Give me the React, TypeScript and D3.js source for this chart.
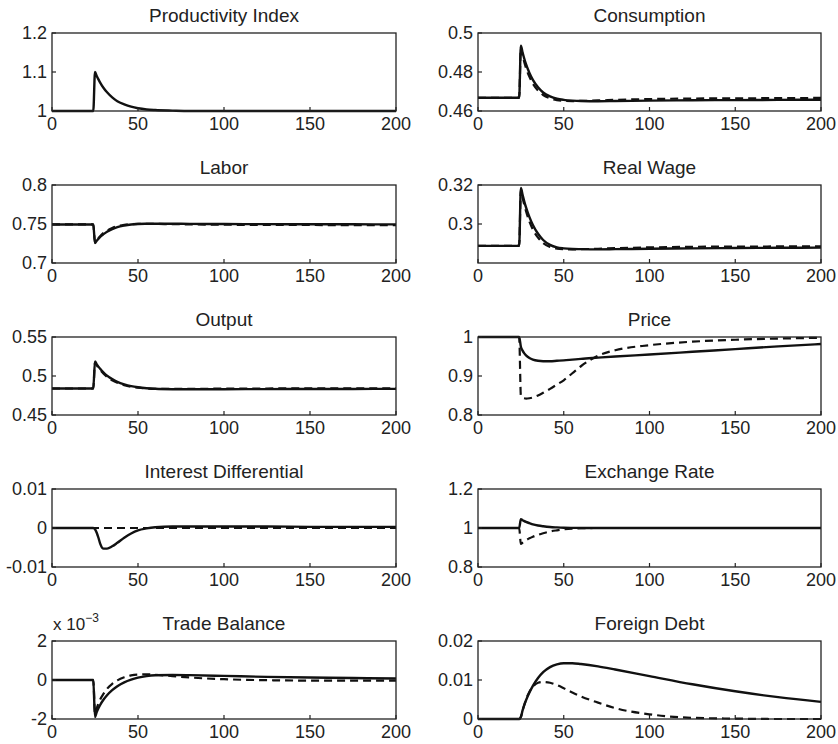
import * as d3 from "d3";

const T = [0, 24, 25, 26, 27, 28, 30, 32, 35, 38, 42, 46, 50, 55, 60, 70, 80, 100, 125, 150, 175, 200];

const productivity = [1, 1, 1.1, 1.09, 1.081, 1.073, 1.059, 1.048, 1.035, 1.025, 1.017, 1.011, 1.007, 1.004, 1.0025, 1.001, 1, 1, 1, 1, 1, 1];

const consumptionA = [0.4668, 0.4668, 0.4935, 0.49, 0.4868, 0.484, 0.4795, 0.476, 0.4722, 0.4695, 0.4675, 0.4663, 0.4657, 0.4653, 0.4651, 0.465, 0.4651, 0.4653, 0.4655, 0.4656, 0.4657, 0.4658];
const consumptionB = [0.4668, 0.4668, 0.4925, 0.4885, 0.485, 0.482, 0.4775, 0.474, 0.4705, 0.4682, 0.4665, 0.4656, 0.4652, 0.4651, 0.4652, 0.4654, 0.4657, 0.4661, 0.4664, 0.4665, 0.4666, 0.4667];

const laborA = [0.7494, 0.7494, 0.7255, 0.7285, 0.731, 0.7335, 0.737, 0.74, 0.7435, 0.746, 0.748, 0.7493, 0.75, 0.7503, 0.7504, 0.7503, 0.7502, 0.75, 0.7498, 0.7497, 0.7496, 0.7495];
const laborB = [0.7494, 0.7494, 0.7258, 0.729, 0.7318, 0.7343, 0.7385, 0.7415, 0.745, 0.7472, 0.749, 0.7498, 0.7502, 0.7502, 0.7501, 0.7498, 0.7495, 0.7491, 0.7488, 0.7487, 0.7486, 0.7486];

const wageA = [0.2888, 0.2888, 0.3185, 0.315, 0.3115, 0.3085, 0.3035, 0.2995, 0.295, 0.2918, 0.2893, 0.288, 0.2875, 0.2872, 0.2871, 0.287, 0.2871, 0.2873, 0.2875, 0.2877, 0.2878, 0.2879];
const wageB = [0.2888, 0.2888, 0.3175, 0.3135, 0.3098, 0.3066, 0.3012, 0.2972, 0.293, 0.2902, 0.2882, 0.2874, 0.2871, 0.287, 0.2871, 0.2873, 0.2876, 0.288, 0.2883, 0.2884, 0.2885, 0.2886];

const outputA = [0.484, 0.484, 0.5185, 0.515, 0.512, 0.5092, 0.5045, 0.5005, 0.496, 0.4925, 0.4893, 0.487, 0.4855, 0.4843, 0.4836, 0.4831, 0.483, 0.4831, 0.4832, 0.4833, 0.4834, 0.4835];
const outputB = [0.484, 0.484, 0.5175, 0.5138, 0.5106, 0.5078, 0.503, 0.499, 0.4945, 0.4912, 0.4882, 0.4862, 0.485, 0.484, 0.4835, 0.4834, 0.4835, 0.4838, 0.484, 0.4841, 0.4841, 0.4841];

const priceA = [1, 1, 0.975, 0.965, 0.958, 0.953, 0.946, 0.942, 0.939, 0.938, 0.938, 0.939, 0.94, 0.942, 0.944, 0.947, 0.95, 0.955, 0.962, 0.969, 0.976, 0.982];
const priceB = [1, 1, 0.85, 0.845, 0.843, 0.842, 0.843, 0.845, 0.85, 0.857, 0.867, 0.878, 0.889, 0.907, 0.925, 0.952, 0.966, 0.979, 0.988, 0.993, 0.996, 0.998];

const interestA = [0, 0, -0.0003, -0.0012, -0.0025, -0.004, -0.0053, -0.0053, -0.0047, -0.0038, -0.0025, -0.0014, -0.0006, -0.0001, 0.0002, 0.0004, 0.0004, 0.0004, 0.0004, 0.0003, 0.0003, 0.0003];
const interestB = [0, 0, 0, 0, 0, 0, 0, 0, 0, 0, 0, 0, 0, 0, 0, 0, 0, 0, 0, 0, 0, 0];

const exchangeA = [1, 1, 1.045, 1.04, 1.035, 1.031, 1.025, 1.019, 1.013, 1.009, 1.005, 1.003, 1.0015, 1.0007, 1.0003, 1, 1, 1, 1, 1, 1, 1];
const exchangeB = [1, 1, 0.918, 0.925, 0.931, 0.937, 0.947, 0.955, 0.965, 0.973, 0.982, 0.988, 0.993, 0.997, 0.999, 1, 1, 1, 1, 1, 1, 1];

// trade balance in units of 1e-3
const tradeA = [0, 0, -1.9, -1.65, -1.45, -1.28, -1.0, -0.78, -0.52, -0.32, -0.12, 0.02, 0.12, 0.2, 0.24, 0.26, 0.25, 0.21, 0.16, 0.13, 0.1, 0.08];
const tradeB = [0, 0, -1.75, -1.45, -1.2, -1.0, -0.7, -0.45, -0.2, -0.02, 0.14, 0.24, 0.28, 0.29, 0.27, 0.2, 0.13, 0.04, -0.01, -0.03, -0.03, -0.03];

const debtA = [0, 0, 0.0005, 0.0022, 0.0036, 0.0048, 0.0068, 0.0085, 0.0105, 0.012, 0.0133, 0.014, 0.0143, 0.0143, 0.0141, 0.0135, 0.0127, 0.011, 0.0089, 0.0071, 0.0056, 0.0044];
const debtB = [0, 0, 0.0005, 0.0022, 0.0036, 0.005, 0.007, 0.0083, 0.0093, 0.0095, 0.0093, 0.0087, 0.0079, 0.0068, 0.0058, 0.0042, 0.0028, 0.0012, 0.0003, 0.0001, 0, 0];

const xTicks = [0, 50, 100, 150, 200];

const panels = [
  { title: "Productivity Index", domain: [1, 1.2], ticks: [1, 1.1, 1.2], solid: productivity, dashed: null },
  { title: "Consumption", domain: [0.46, 0.5], ticks: [0.46, 0.48, 0.5], solid: consumptionA, dashed: consumptionB },
  { title: "Labor", domain: [0.7, 0.8], ticks: [0.7, 0.75, 0.8], solid: laborA, dashed: laborB },
  { title: "Real Wage", domain: [0.28, 0.32], ticks: [0.3, 0.32], solid: wageA, dashed: wageB },
  { title: "Output", domain: [0.45, 0.55], ticks: [0.45, 0.5, 0.55], solid: outputA, dashed: outputB },
  { title: "Price", domain: [0.8, 1], ticks: [0.8, 0.9, 1], solid: priceA, dashed: priceB },
  { title: "Interest Differential", domain: [-0.01, 0.01], ticks: [-0.01, 0, 0.01], solid: interestA, dashed: interestB },
  { title: "Exchange Rate", domain: [0.8, 1.2], ticks: [0.8, 1, 1.2], solid: exchangeA, dashed: exchangeB },
  { title: "Trade Balance", domain: [-2, 2], ticks: [-2, 0, 2], solid: tradeA, dashed: tradeB, scaleNote: true },
  { title: "Foreign Debt", domain: [0, 0.02], ticks: [0, 0.01, 0.02], solid: debtA, dashed: debtB },
];

const W = 838;
const H = 744;
const colX = [52, 478];
const plotW = [344, 343];
const top0 = 33;
const rowStep = 152;
const plotH = 78;
const font = "'Liberation Sans', Arial, sans-serif";

const fmt = (v) => String(+v.toFixed(4));

const Panel = ({ p, idx }) => {
  const col = idx % 2;
  const row = Math.floor(idx / 2);
  const left = colX[col];
  const top = top0 + row * rowStep;
  const w = plotW[col];
  const x = d3.scaleLinear().domain([0, 200]).range([0, w]);
  const y = d3.scaleLinear().domain(p.domain).range([plotH, 0]);
  const line = d3
    .line()
    .x((d, i) => x(T[i]))
    .y((d) => y(d))
    .curve(d3.curveMonotoneX);

  return (
    <g transform={`translate(${left},${top})`}>
      <text x={w / 2} y={-11} textAnchor="middle" fontSize={19} fontFamily={font} fill="#222">
        {p.title}
      </text>
      {p.scaleNote && (
        <text x={1} y={-11} fontSize={17} fontFamily={font} fill="#222">
          x 10
          <tspan dy={-8} fontSize={12}>
            −3
          </tspan>
        </text>
      )}
      {p.dashed && (
        <path d={line(p.dashed)} fill="none" stroke="#111" strokeWidth={2.2} strokeDasharray="8,5" />
      )}
      <path d={line(p.solid)} fill="none" stroke="#111" strokeWidth={2.4} strokeLinejoin="round" />
      <rect x={0} y={0} width={w} height={plotH} fill="none" stroke="#222" strokeWidth={1.3} />
      {xTicks.map((t) => (
        <g key={"x" + t}>
          <line x1={x(t)} x2={x(t)} y1={plotH} y2={plotH - 4} stroke="#222" strokeWidth={1.2} />
          <text x={x(t)} y={plotH + 19} textAnchor="middle" fontSize={18} fontFamily={font} fill="#222">
            {t}
          </text>
        </g>
      ))}
      {p.ticks.map((t) => (
        <g key={"y" + t}>
          <line x1={0} x2={4} y1={y(t)} y2={y(t)} stroke="#222" strokeWidth={1.2} />
          <text x={-5} y={y(t)} dy="0.36em" textAnchor="end" fontSize={18} fontFamily={font} fill="#222">
            {fmt(t)}
          </text>
        </g>
      ))}
    </g>
  );
};

export default function App() {
  return (
    <svg width={W} height={H} style={{ display: "block", position: "absolute", left: 0, top: 0, background: "#fff" }}>
      <rect width={W} height={H} fill="#fff" />
      {panels.map((p, i) => (
        <Panel key={p.title} p={p} idx={i} />
      ))}
    </svg>
  );
}
